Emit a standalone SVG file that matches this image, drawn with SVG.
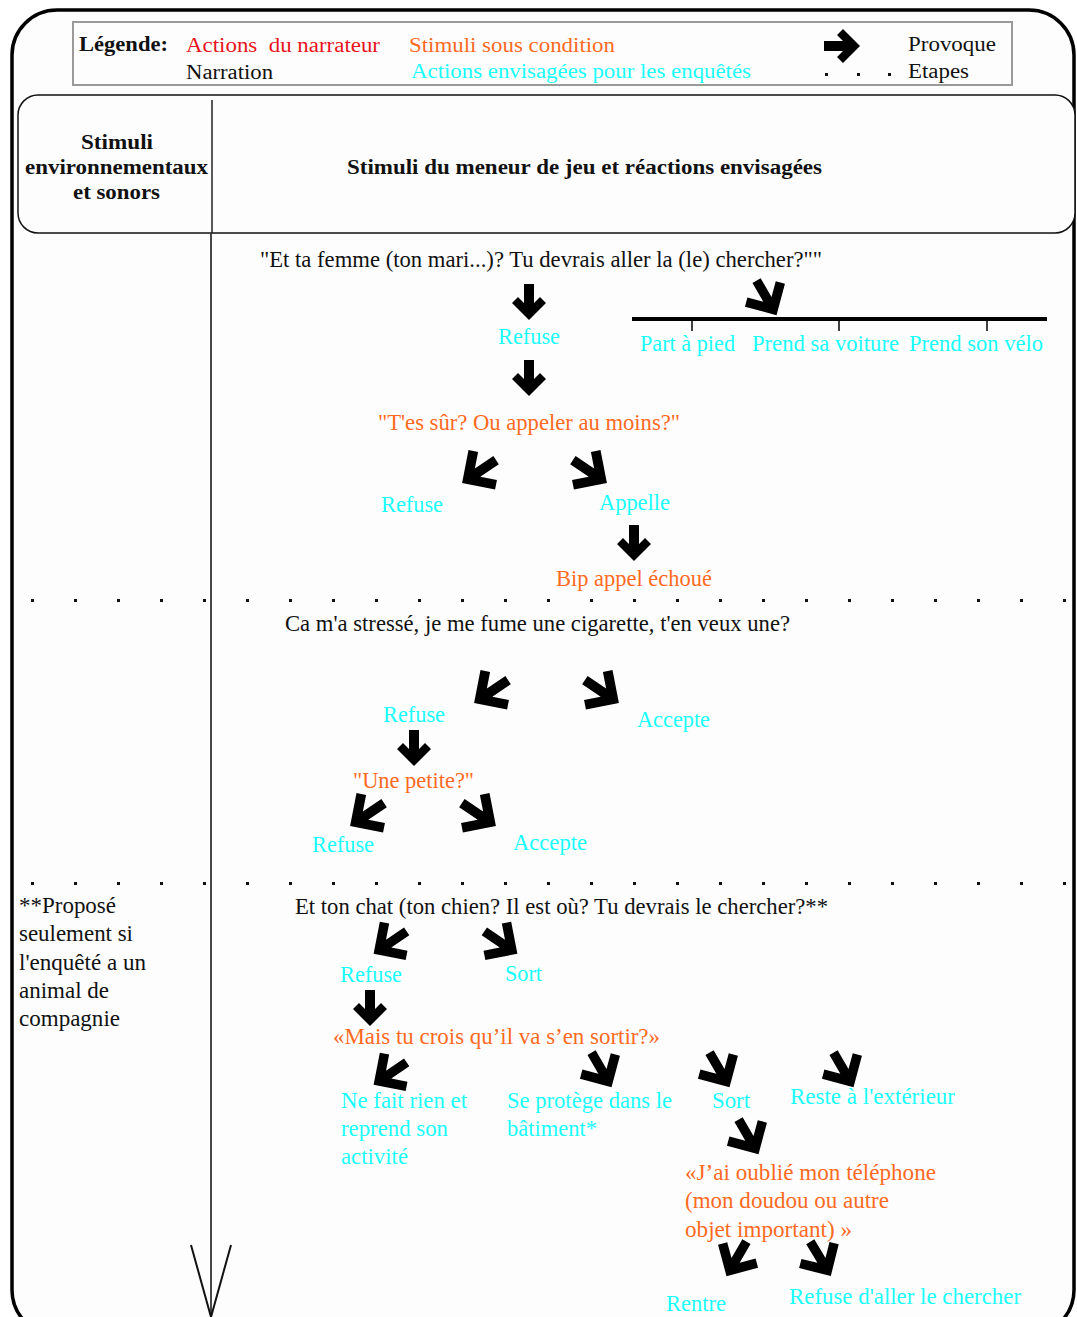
<svg xmlns="http://www.w3.org/2000/svg" width="1077" height="1317" viewBox="0 0 1077 1317">
<defs>
<style>
text{font-family:"Liberation Serif","Times New Roman",serif;white-space:pre}
.lg{font-size:20px}
.hd{font-size:20px;font-weight:bold;fill:#111}
.t{font-size:23px}
.k{fill:#111}
.c{fill:#19ffff}
.o{fill:#ff6a1f}
.r{fill:#e8131c}
.dot{fill:#111}
.arr{fill:#000}
</style>
<path id="arr" d="M-5,-18 H5 V1 L11,-5 L17,1 L0,18 L-17,1 L-11,-5 L-5,1 Z"/>
<path id="arrd" d="M-4.5,-18 H4.5 V2.7 L15.6,-8.4 L22,-2 L0,20 L-22,-2 L-15.6,-8.4 L-4.5,2.7 Z"/>
<rect id="d" width="3" height="3"/>
</defs>
<rect x="0" y="0" width="1077" height="1317" fill="#ffffff"/>
<g id="frame">
<rect x="12" y="10" width="1062" height="1325" rx="45" fill="#fdfdfd" stroke="#000" stroke-width="3.5"/>
</g>
<g id="legend">
<rect x="73" y="22" width="939" height="63" fill="#fdfdfd" stroke="#9a9a9a" stroke-width="2"/>
<text class="lg k" x="79" y="51" font-weight="bold" textLength="89" lengthAdjust="spacingAndGlyphs">Légende:</text>
<text class="lg r" x="186" y="52" textLength="194" lengthAdjust="spacingAndGlyphs">Actions  du narrateur</text>
<text class="lg k" x="186" y="79" textLength="87" lengthAdjust="spacingAndGlyphs">Narration</text>
<text class="lg o" x="409" y="52" textLength="206" lengthAdjust="spacingAndGlyphs">Stimuli sous condition</text>
<text class="lg c" x="411" y="78" textLength="340" lengthAdjust="spacingAndGlyphs">Actions envisagées pour les enquêtés</text>
<use href="#arr" class="arr" transform="translate(842,46) rotate(-90)"/>
<text class="lg k" x="908" y="51" textLength="88" lengthAdjust="spacingAndGlyphs">Provoque</text>
<use href="#d" class="dot" x="825" y="73"/>
<use href="#d" class="dot" x="857" y="73"/>
<use href="#d" class="dot" x="888" y="73"/>
<text class="lg k" x="908" y="78" textLength="61" lengthAdjust="spacingAndGlyphs">Etapes</text>
</g>
<g id="header">
<rect x="18" y="95" width="1057" height="138" rx="20" fill="#fdfdfd" stroke="#111" stroke-width="1.5"/>
<line x1="212" y1="100" x2="212" y2="233" stroke="#222" stroke-width="1.5"/>
<text class="hd" x="81" y="149" textLength="72" lengthAdjust="spacingAndGlyphs">Stimuli</text>
<text class="hd" x="25" y="174" textLength="183" lengthAdjust="spacingAndGlyphs">environnementaux</text>
<text class="hd" x="73" y="199" textLength="87" lengthAdjust="spacingAndGlyphs">et sonors</text>
<text class="hd" x="347" y="174" textLength="475" lengthAdjust="spacingAndGlyphs">Stimuli du meneur de jeu et réactions envisagées</text>
</g>
<g id="axis">
<line x1="211" y1="233" x2="211" y2="1317" stroke="#333" stroke-width="1.8"/>
<polyline points="191,1245 211,1317 231,1245" fill="none" stroke="#111" stroke-width="2"/>
</g>
<g id="separators" class="dot">
<use href="#d" x="31" y="599"/><use href="#d" x="74" y="599"/><use href="#d" x="117" y="599"/><use href="#d" x="160" y="599"/><use href="#d" x="203" y="599"/><use href="#d" x="246" y="599"/><use href="#d" x="289" y="599"/><use href="#d" x="332" y="599"/><use href="#d" x="375" y="599"/><use href="#d" x="418" y="599"/><use href="#d" x="461" y="599"/><use href="#d" x="504" y="599"/><use href="#d" x="547" y="599"/><use href="#d" x="590" y="599"/><use href="#d" x="633" y="599"/><use href="#d" x="676" y="599"/><use href="#d" x="719" y="599"/><use href="#d" x="762" y="599"/><use href="#d" x="805" y="599"/><use href="#d" x="848" y="599"/><use href="#d" x="891" y="599"/><use href="#d" x="934" y="599"/><use href="#d" x="977" y="599"/><use href="#d" x="1020" y="599"/><use href="#d" x="1063" y="599"/>
<use href="#d" x="31" y="882"/><use href="#d" x="74" y="882"/><use href="#d" x="117" y="882"/><use href="#d" x="160" y="882"/><use href="#d" x="203" y="882"/><use href="#d" x="246" y="882"/><use href="#d" x="289" y="882"/><use href="#d" x="332" y="882"/><use href="#d" x="375" y="882"/><use href="#d" x="418" y="882"/><use href="#d" x="461" y="882"/><use href="#d" x="504" y="882"/><use href="#d" x="547" y="882"/><use href="#d" x="590" y="882"/><use href="#d" x="633" y="882"/><use href="#d" x="676" y="882"/><use href="#d" x="719" y="882"/><use href="#d" x="762" y="882"/><use href="#d" x="805" y="882"/><use href="#d" x="848" y="882"/><use href="#d" x="891" y="882"/><use href="#d" x="934" y="882"/><use href="#d" x="977" y="882"/><use href="#d" x="1020" y="882"/><use href="#d" x="1063" y="882"/>
</g>
<g id="timeline">
<line x1="632" y1="319" x2="1047" y2="319" stroke="#000" stroke-width="4"/>
<line x1="692" y1="319" x2="692" y2="331" stroke="#000" stroke-width="1.5"/>
<line x1="839" y1="319" x2="839" y2="331" stroke="#000" stroke-width="1.5"/>
<line x1="987" y1="319" x2="987" y2="331" stroke="#000" stroke-width="1.5"/>
</g>
<g id="connectors" class="arr">
<use href="#arr" transform="translate(529,302)"/>
<use href="#arr" transform="translate(529,378)"/>
<use href="#arrd" transform="translate(766,297) rotate(-30) scale(1.05)"/>
<use href="#arrd" transform="translate(480,471) rotate(56) scale(1.08)"/>
<use href="#arrd" transform="translate(589,471) rotate(-56) scale(1.08)"/>
<use href="#arr" transform="translate(634,543)"/>
<use href="#arrd" transform="translate(492,691) rotate(56) scale(1.08)"/>
<use href="#arrd" transform="translate(601,691) rotate(-56) scale(1.08)"/>
<use href="#arr" transform="translate(414,748)"/>
<use href="#arrd" transform="translate(368,814) rotate(56) scale(1.08)"/>
<use href="#arrd" transform="translate(478,814) rotate(-56) scale(1.08)"/>
<use href="#arrd" transform="translate(391,942) rotate(56) scale(1.05)"/>
<use href="#arrd" transform="translate(500,942) rotate(-56) scale(1.05)"/>
<use href="#arr" transform="translate(370,1008)"/>
<use href="#arrd" transform="translate(391,1073) rotate(56) scale(1.05)"/>
<use href="#arrd" transform="translate(601,1069) rotate(-30) scale(1.05)"/>
<use href="#arrd" transform="translate(719,1069) rotate(-30) scale(1.05)"/>
<use href="#arrd" transform="translate(843,1069) rotate(-30) scale(1.05)"/>
<use href="#arrd" transform="translate(748,1136) rotate(-30) scale(1.05)"/>
<use href="#arrd" transform="translate(737,1258) rotate(30) scale(1.05)"/>
<use href="#arrd" transform="translate(820,1258) rotate(-31) scale(1.05)"/>
</g>
<g id="n1"><text class="t k" x="260" y="267" textLength="562" lengthAdjust="spacingAndGlyphs">"Et ta femme (ton mari...)? Tu devrais aller la (le) chercher?""</text></g>
<g id="n2"><text class="t c" x="498" y="344" textLength="62" lengthAdjust="spacingAndGlyphs">Refuse</text></g>
<g id="n3"><text class="t c" x="640" y="351" textLength="95" lengthAdjust="spacingAndGlyphs">Part à pied</text></g>
<g id="n4"><text class="t c" x="752" y="351" textLength="147" lengthAdjust="spacingAndGlyphs">Prend sa voiture</text></g>
<g id="n5"><text class="t c" x="909" y="351" textLength="134" lengthAdjust="spacingAndGlyphs">Prend son vélo</text></g>
<g id="n6"><text class="t o" x="378" y="430" textLength="302" lengthAdjust="spacingAndGlyphs">"T'es sûr? Ou appeler au moins?"</text></g>
<g id="n7"><text class="t c" x="381" y="512" textLength="62" lengthAdjust="spacingAndGlyphs">Refuse</text></g>
<g id="n8"><text class="t c" x="599" y="510" textLength="71" lengthAdjust="spacingAndGlyphs">Appelle</text></g>
<g id="n9"><text class="t o" x="556" y="586" textLength="156" lengthAdjust="spacingAndGlyphs">Bip appel échoué</text></g>
<g id="n10"><text class="t k" x="285" y="631" textLength="505" lengthAdjust="spacingAndGlyphs">Ca m'a stressé, je me fume une cigarette, t'en veux une?</text></g>
<g id="n11"><text class="t c" x="383" y="722" textLength="62" lengthAdjust="spacingAndGlyphs">Refuse</text></g>
<g id="n12"><text class="t c" x="637" y="727" textLength="73" lengthAdjust="spacingAndGlyphs">Accepte</text></g>
<g id="n13"><text class="t o" x="353" y="788" textLength="121" lengthAdjust="spacingAndGlyphs">"Une petite?"</text></g>
<g id="n14"><text class="t c" x="312" y="852" textLength="62" lengthAdjust="spacingAndGlyphs">Refuse</text></g>
<g id="n15"><text class="t c" x="513" y="850" textLength="74" lengthAdjust="spacingAndGlyphs">Accepte</text></g>
<g id="n16">
<text class="t k" x="19" y="913" textLength="97" lengthAdjust="spacingAndGlyphs">**Proposé</text>
<text class="t k" x="19" y="941" textLength="114" lengthAdjust="spacingAndGlyphs">seulement si</text>
<text class="t k" x="19" y="970" textLength="127" lengthAdjust="spacingAndGlyphs">l'enquêté a un</text>
<text class="t k" x="19" y="998" textLength="90" lengthAdjust="spacingAndGlyphs">animal de</text>
<text class="t k" x="19" y="1026" textLength="101" lengthAdjust="spacingAndGlyphs">compagnie</text>
</g>
<g id="n17"><text class="t k" x="295" y="914" textLength="533" lengthAdjust="spacingAndGlyphs">Et ton chat (ton chien? Il est où? Tu devrais le chercher?**</text></g>
<g id="n18"><text class="t c" x="340" y="982" textLength="62" lengthAdjust="spacingAndGlyphs">Refuse</text></g>
<g id="n19"><text class="t c" x="505" y="981" textLength="37" lengthAdjust="spacingAndGlyphs">Sort</text></g>
<g id="n20"><text class="t o" x="333" y="1044" textLength="327" lengthAdjust="spacingAndGlyphs">«Mais tu crois qu’il va s’en sortir?»</text></g>
<g id="n21">
<text class="t c" x="341" y="1108" textLength="126" lengthAdjust="spacingAndGlyphs">Ne fait rien et</text>
<text class="t c" x="341" y="1136" textLength="107" lengthAdjust="spacingAndGlyphs">reprend son</text>
<text class="t c" x="341" y="1164" textLength="67" lengthAdjust="spacingAndGlyphs">activité</text>
</g>
<g id="n22">
<text class="t c" x="507" y="1108" textLength="165" lengthAdjust="spacingAndGlyphs">Se protège dans le</text>
<text class="t c" x="507" y="1136" textLength="90" lengthAdjust="spacingAndGlyphs">bâtiment*</text>
</g>
<g id="n23"><text class="t c" x="712" y="1108" textLength="38" lengthAdjust="spacingAndGlyphs">Sort</text></g>
<g id="n24"><text class="t c" x="790" y="1104" textLength="165" lengthAdjust="spacingAndGlyphs">Reste à l'extérieur</text></g>
<g id="n25">
<text class="t o" x="685" y="1180" textLength="251" lengthAdjust="spacingAndGlyphs">«J’ai oublié mon téléphone</text>
<text class="t o" x="685" y="1208" textLength="204" lengthAdjust="spacingAndGlyphs">(mon doudou ou autre</text>
<text class="t o" x="685" y="1237" textLength="167" lengthAdjust="spacingAndGlyphs">objet important) »</text>
</g>
<g id="n26"><text class="t c" x="666" y="1311" textLength="60" lengthAdjust="spacingAndGlyphs">Rentre</text></g>
<g id="n27"><text class="t c" x="789" y="1304" textLength="232" lengthAdjust="spacingAndGlyphs">Refuse d'aller le chercher</text></g>
</svg>
